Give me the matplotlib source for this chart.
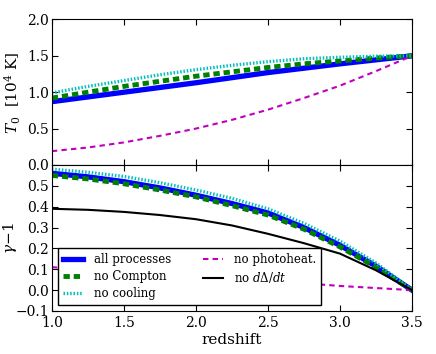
"""T0 and gamma-1 vs redshift for the different heating/cooling runs."""
import matplotlib
matplotlib.use("Agg")
import matplotlib.pyplot as plt
from matplotlib.ticker import MultipleLocator

# redshift grid
z = [1.0, 1.25, 1.5, 1.75, 2.0, 2.25, 2.5, 2.75, 3.0, 3.25, 3.5]

# T0 [1e4 K]
t0_all = [0.87, 0.935, 1.00, 1.065, 1.13, 1.20, 1.27, 1.33, 1.39, 1.445, 1.50]
t0_nocompton = [0.92, 1.00, 1.08, 1.15, 1.22, 1.28, 1.34, 1.39, 1.43, 1.47, 1.50]
t0_nocooling = [0.99, 1.08, 1.16, 1.24, 1.31, 1.37, 1.42, 1.46, 1.48, 1.495, 1.50]
t0_nophoto = [0.19, 0.24, 0.31, 0.40, 0.50, 0.62, 0.76, 0.92, 1.09, 1.29, 1.50]

# gamma - 1
g_all = [0.56, 0.543, 0.52, 0.49, 0.455, 0.415, 0.37, 0.30, 0.215, 0.115, 0.0]
g_nocompton = [0.55, 0.533, 0.51, 0.48, 0.447, 0.405, 0.36, 0.292, 0.207, 0.11, 0.0]
g_nocooling = [0.58, 0.565, 0.545, 0.515, 0.48, 0.44, 0.39, 0.32, 0.235, 0.13, 0.0]
g_nophoto = [0.11, 0.098, 0.087, 0.076, 0.065, 0.055, 0.045, 0.033, 0.02, 0.01, 0.0]
g_noddelta = [0.39, 0.385, 0.375, 0.36, 0.34, 0.31, 0.27, 0.225, 0.175, 0.095, 0.0]

labels = ["all processes", "no Compton", "no cooling", "no photoheat.",
          r"no $d\Delta/dt$"]

plt.rcParams.update({
    "font.family": "DejaVu Serif",
    "mathtext.fontset": "dejavuserif",
    "font.size": 11,
    "xtick.labelsize": 10,
    "ytick.labelsize": 10,
    "xtick.direction": "in",
    "ytick.direction": "in",
    "xtick.top": True,
    "ytick.right": True,
    "xtick.major.size": 4,
    "ytick.major.size": 4,
    "ytick.major.pad": 2,
    "xtick.major.pad": 3.5,
    "legend.fancybox": False,
    "legend.framealpha": 1.0,
})

STYLE = {
    "all": dict(ls="-", color="blue", lw=3.8),
    "compton": dict(ls="--", color="green", lw=3.5, dashes=(1.3, 0.8)),
    "cooling": dict(ls=":", color="c", lw=2.4, dashes=(0.45, 0.55)),
    "photo": dict(ls="--", color="m", lw=1.5, dashes=(2.6, 2.0)),
    "ddelta": dict(ls="-", color="black", lw=1.5),
}

fig = plt.figure(figsize=(4.36, 3.54), dpi=100)
ax1 = fig.add_axes([0.119, 0.534, 0.826, 0.411])
ax2 = fig.add_axes([0.119, 0.1215, 0.826, 0.4125], sharex=ax1)

ax1.plot(z, t0_all, **STYLE["all"])
ax1.plot(z, t0_nocompton, **STYLE["compton"])
ax1.plot(z, t0_nocooling, **STYLE["cooling"])
ax1.plot(z, t0_nophoto, **STYLE["photo"])
ax1.set_ylim(0, 2)
ax1.yaxis.set_major_locator(MultipleLocator(0.5))
ax1.set_ylabel(r"$T_0\ $ [10$^4$ K]")
ax1.tick_params(labelbottom=False)

l1, = ax2.plot(z, g_all, **STYLE["all"])
l2, = ax2.plot(z, g_nocompton, **STYLE["compton"])
l3, = ax2.plot(z, g_nocooling, **STYLE["cooling"])
l4, = ax2.plot(z, g_nophoto, **STYLE["photo"])
l5, = ax2.plot(z, g_noddelta, **STYLE["ddelta"])
ax2.set_ylim(-0.1, 0.6)
ax2.set_yticks([-0.1, 0.0, 0.1, 0.2, 0.3, 0.4, 0.5])
ax2.set_xlim(1.0, 3.5)
ax2.xaxis.set_major_locator(MultipleLocator(0.5))
ax2.set_ylabel(r"$\gamma\!-\!1$")
ax2.set_xlabel("redshift", labelpad=2)

leg = ax2.legend([l1, l2, l3, l4, l5], labels, ncol=2, loc="lower left",
                 fontsize=8.5, handlelength=1.7, borderaxespad=0.5,
                 columnspacing=2.7, labelspacing=0.32, borderpad=0.45,
                 handletextpad=0.9)
leg.get_frame().set_edgecolor("black")
leg.get_frame().set_linewidth(1.0)

ax1.yaxis.set_label_coords(-0.08, 0.5)
ax2.yaxis.set_label_coords(-0.092, 0.5)

fig.savefig("out.png", dpi=100)
